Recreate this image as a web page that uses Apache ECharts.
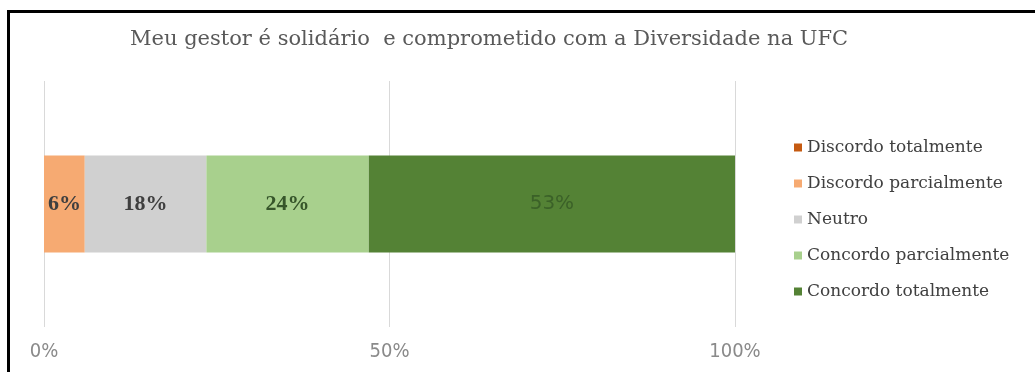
<!DOCTYPE html>
<html>
<head>
<meta charset="utf-8">
<script src="https://cdn.jsdelivr.net/npm/echarts@6/dist/echarts.min.js"></script>
<style>
  html, body { margin: 0; padding: 0; background: #fff; }
  #frame {
    position: absolute; left: 7px; top: 10px; right: 0; bottom: 0;
    border-top: 3px solid #000; border-left: 3px solid #000;
  }
  #chart { position: absolute; left: 0; top: 0; width: 1035px; height: 372px; }
</style>
</head>
<body>
<div id="frame"></div>
<div id="chart"></div>
<script>
// Survey answers (share of respondents, %)
const titleText = 'Meu gestor é solidário  e comprometido com a Diversidade na UFC';
const categories = [''];
const seriesNames = [
  'Discordo totalmente',
  'Discordo parcialmente',
  'Neutro',
  'Concordo parcialmente',
  'Concordo totalmente'
];
const seriesValues = [0, 5.9, 17.6, 23.5, 53.0];
const seriesColors = ['#C55A11', '#F6AA72', '#D0D0D0', '#A8D08D', '#548235'];
const xTicks = [0, 50, 100];

const labelStyles = [
  { color: '#3f3f3f', fontFamily: 'Liberation Serif', fontWeight: 'bold', fontSize: 22 },
  { color: '#3f3f3f', fontFamily: 'Liberation Serif', fontWeight: 'bold', fontSize: 22 },
  { color: '#3f3f3f', fontFamily: 'Liberation Serif', fontWeight: 'bold', fontSize: 22 },
  { color: '#36552a', fontFamily: 'Liberation Serif', fontWeight: 'bold', fontSize: 22 },
  { color: '#3b6128', fontFamily: 'DejaVu Sans', fontWeight: 'normal', fontSize: 20 }
];

const chart = echarts.init(document.getElementById('chart'), null, { renderer: 'canvas' });

const series = seriesNames.map((name, i) => ({
  name: name,
  type: 'bar',
  stack: 'total',
  barWidth: 97,
  data: [seriesValues[i]],
  itemStyle: { color: seriesColors[i] },
  label: {
    show: seriesValues[i] > 0,
    position: 'inside',
    formatter: p => Math.round(p.value) + '%',
    ...labelStyles[i]
  },
  emphasis: { disabled: true }
}));

chart.setOption({
  animation: false,
  backgroundColor: 'transparent',
  title: {
    text: titleText,
    left: 130,
    top: 29,
    padding: 0,
    textStyle: {
      fontFamily: 'DejaVu Serif',
      fontWeight: 'normal',
      fontSize: 21,
      color: '#595959'
    }
  },
  legend: {
    orient: 'vertical',
    left: 794,
    top: 139,
    padding: 0,
    itemWidth: 8,
    itemHeight: 8,
    itemGap: 19,
    icon: 'rect',
    data: seriesNames,
    textStyle: {
      fontFamily: 'DejaVu Serif',
      fontSize: 17,
      color: '#404040'
    }
  },
  grid: { left: 44, right: 300, top: 81, bottom: 45, containLabel: false },
  xAxis: {
    type: 'value',
    min: xTicks[0],
    max: xTicks[xTicks.length - 1],
    interval: xTicks[1] - xTicks[0],
    axisLine: { show: false },
    axisTick: { show: false },
    splitLine: { lineStyle: { color: '#D9D9D9', width: 1 } },
    axisLabel: {
      formatter: '{value}%',
      margin: 15,
      fontFamily: 'DejaVu Sans Condensed',
      fontSize: 20,
      color: '#8a8a8a'
    }
  },
  yAxis: {
    type: 'category',
    data: categories,
    axisLine: { show: false },
    axisTick: { show: false },
    axisLabel: { show: false }
  },
  series: series
});
</script>
</body>
</html>
